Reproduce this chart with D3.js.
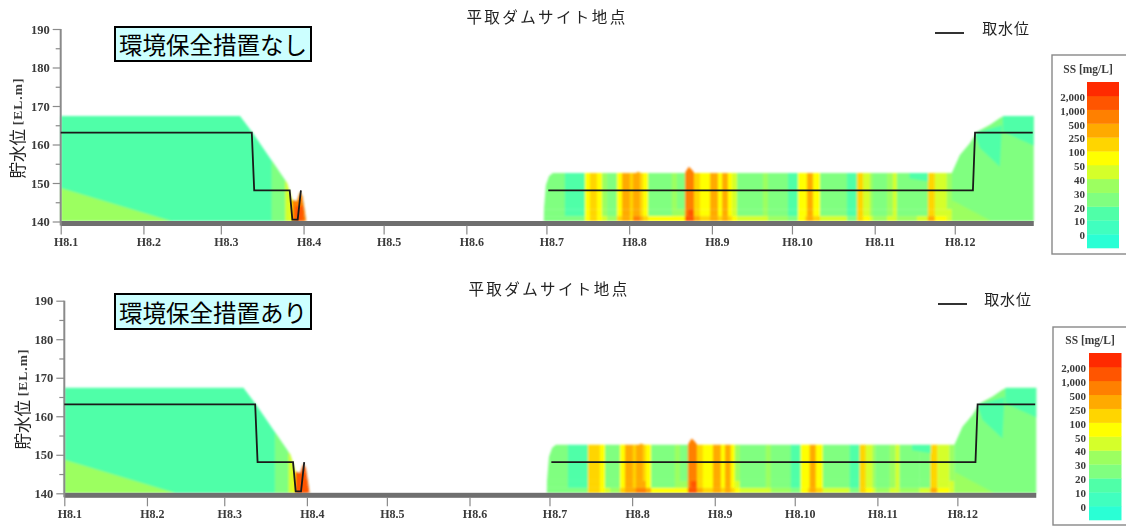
<!DOCTYPE html>
<html><head><meta charset="utf-8">
<script src="https://cdn.jsdelivr.net/npm/d3@7/dist/d3.min.js"></script>
<style>
html,body{margin:0;padding:0;background:#fff;overflow:hidden}
svg{display:block}
.serif{font-family:"Liberation Serif",serif;font-weight:bold;fill:#3a3a3a}
.jp{font-family:"Noto Sans CJK JP",sans-serif;fill:#222}
</style></head><body>
<script>
// ---------- data (days since 1 Jan H8, elevation in EL.m, SS in mg/L) ----------
const monthDays   = [0,31,60,91,121,152,182,213,244,274,305,335];
const monthLabels = ["H8.1","H8.2","H8.3","H8.4","H8.5","H8.6","H8.7","H8.8","H8.9","H8.10","H8.11","H8.12"];
const levelMajor  = [140,150,160,170,180,190];
const levelMinor  = [145,155,165,175,185];
const legendTicks = ["2,000","1,000","500","250","100","50","40","30","20","10","0"];
const ssThresholds = [0,10,20,30,40,50,100,250,500,1000,2000];
const ssColors = ["#2AFFD5","#40FFBF","#50FFA8","#80FF80","#9CFF60","#D5FF2A","#FFFF00","#FFD500","#FFAA00","#FF8000","#FF5500","#FF2A00"];

const reservoirSurface = [[0,140],[0,167.4],[67.2,167.4],[72,163],[84.8,150],[86.7,145.6],[88.5,145.3],[89.7,147.7],[90.6,146.5],[91.4,143],[92,140],
  [180.7,140],[181.8,149.5],[183,151.8],[184.4,152.6],[215.5,152.6],[216.3,152.9],[217.5,152.6],[233.9,152.6],[234.7,153.6],[235.4,154.2],[236.6,153.4],[237.4,152.6],
  [333.9,152.6],[336.9,157.3],[340.7,160.4],[343.3,163.3],[348.2,165.1],[351.9,166.9],[353.4,167.4],[364.6,167.4],[364.6,140]];
const intakeSpring = [[0,163.1],[71.6,163.1],[72.5,148.1],[85.8,148.1],[86.8,140.5],[88.8,140.5],[90,148.1]];
const intakeAutumn = [[182.7,148.1],[341.8,148.1],[342.6,163.1],[364.2,163.1]];

const leftWedge   = [[0,148.7],[42,140],[0,140]];
const rightBase   = [[333.9,170],[366,170],[366,140],[333.9,140]];
const rightTeal1  = [[342.5,163],[344.4,159.1],[351.9,154.2],[352.7,165]];
const rightTeal2  = [[353,167.4],[365,167.4],[365,159.6],[353,163.3]];
const rightWedge  = [[334,145.5],[349,140],[334,140]];
const lateTeal    = [[318,152.6],[325,152.6],[325,150.4],[318,151.2]];
const drawdownDays = [79,84.1,86,86.7,92.2];
const drawdownSS   = [25,45,75,750];
const drawdownSS2  = [25,45,75,1500];

const stripeDays = [181,188.9,196.4,198.3,200.9,202.8,204.7,208.4,210.3,213.3,214.4,217.1,218.2,220.1,229,230.9,233.9,235,237.3,239.5,243.3,246.3,247.8,250,251.5,253.4,263.1,265,272.5,276.2,278.9,279.6,281.9,284.5,294.6,298.3,300.6,303.2,304.3,309.6,311.8,313.3,320.8,324.9,327.5,332,333.9];
const upperSS1  = [25,15,75,175,75,35,25,75,375,175,375,175,75,25,35,25,750,750,175,75,375,75,375,75,45,25,35,25,15,75,75,375,75,25,15,175,45,35,25,35,45,25,25,175,45,35];
const middleSS1 = [25,15,75,175,75,35,25,75,375,175,375,175,75,25,35,35,750,1500,175,75,375,75,375,75,45,25,35,25,15,75,75,375,75,25,15,175,45,35,25,35,45,25,25,175,45,45];
const lowerSS1  = [25,25,75,175,75,45,35,175,375,175,750,375,175,75,75,75,1500,1500,375,175,375,175,375,175,75,45,45,35,25,75,175,375,175,45,25,175,75,45,35,45,45,35,45,375,75,45];
const upperSS2  = [25,15,175,175,75,25,25,75,375,175,375,175,75,25,35,25,750,750,175,75,375,75,375,75,35,25,35,25,15,75,75,375,75,25,15,175,45,35,25,35,45,25,25,175,45,35];
const middleSS2 = [25,15,175,175,75,25,25,75,375,175,375,375,75,25,35,35,750,1500,175,75,375,75,375,75,45,25,35,25,15,75,75,375,75,25,15,175,45,35,25,35,45,25,25,175,45,45];
const lowerSS2  = [25,25,175,175,75,45,35,175,375,375,750,750,375,75,75,75,1500,1500,375,175,375,175,375,175,75,45,45,35,25,75,175,375,175,45,25,175,75,45,35,45,45,35,45,375,75,45];
const stripeBreaks = [143.2,141.4,140];   // lower elevation of each stripe layer

const titleText  = "平取ダムサイト地点";
const intakeText = "取水位";
const legendTitle = "SS [mg/L]";
const panelNames = ["環境保全措置なし","環境保全措置あり"];

// ---------- layout ----------
const W=1126,H=526;
const panels=[
 {name:panelNames[0],xr:[60.7,1037.5],yr:[221.5,29],upper:upperSS1,middle:middleSS1,lower:lowerSS1,dd:drawdownSS,
  titleX:547,titleY:16,lgX:[935,964],lgY:33,lgTX:1006,lgTY:27,boxX:115,boxY:27,boxH:34,axisTitleX:17,axisTitleCy:128,
  leg:{x:1052,y:55,w:74,h:199,cx:1087,cw:32,cy:82,ch:166,lx:1085,tx:1088,ty:69}},
 {name:panelNames[1],xr:[64.3,1040],yr:[493.3,300.7],upper:upperSS2,middle:middleSS2,lower:lowerSS2,dd:drawdownSS2,
  titleX:549,titleY:288,lgX:[938,967],lgY:304,lgTX:1008,lgTY:298,boxX:115,boxY:294,boxH:35,axisTitleX:22,axisTitleCy:399,
  leg:{x:1053,y:327,w:73,h:198,cx:1089,cw:32.5,cy:353,ch:167,lx:1086,tx:1090,ty:340}}
];

const svg=d3.select("body").append("svg").attr("width",W).attr("height",H);
const defs=svg.append("defs");
const blurHeat=defs.append("filter").attr("id","blurHeat").attr("x","-2%").attr("y","-10%").attr("width","104%").attr("height","120%");
blurHeat.append("feGaussianBlur").attr("stdDeviation",1.2);
const blurText=defs.append("filter").attr("id","blurText").attr("x","-5%").attr("y","-10%").attr("width","110%").attr("height","120%");
blurText.append("feGaussianBlur").attr("stdDeviation",0.3);

const ssColor=d3.scaleThreshold().domain(ssThresholds).range(ssColors);

panels.forEach((p,idx)=>{
  const x=d3.scaleLinear().domain([0,366]).range(p.xr);
  const y=d3.scaleLinear().domain([140,190]).range(p.yr);
  const g=svg.append("g");
  const poly=d3.line().x(d=>x(d[0])).y(d=>y(d[1]));

  // heat layer clipped by the water surface
  const clipId="surface"+idx;
  defs.append("clipPath").attr("id",clipId).append("path").attr("d",poly(reservoirSurface)+"Z");
  const heatOuter=g.append("g").attr("filter","url(#blurHeat)");
  const heat=heatOuter.append("g").attr("clip-path",`url(#${clipId})`);
  const fillPoly=(pts,val)=>heat.append("path").attr("d",poly(pts)+"Z").attr("fill",ssColor(val));
  const fillRect=(d0,d1,e0,e1,val)=>heat.append("rect")
      .attr("x",x(d0)).attr("width",x(d1)-x(d0)+0.3)
      .attr("y",y(e1)).attr("height",y(e0)-y(e1)).attr("fill",ssColor(val));

  fillRect(0,100,140,170,15);
  fillPoly(leftWedge,35);
  d3.pairs(drawdownDays).forEach((d,i)=>fillRect(d[0],d[1],140,170,p.dd[i]));
  fillRect(87.8,90.8,140,144,1500);
  d3.pairs(stripeDays).forEach((d,i)=>{
    fillRect(d[0],d[1],stripeBreaks[0],170,p.upper[i]);
    fillRect(d[0],d[1],stripeBreaks[1],stripeBreaks[0],p.middle[i]);
    fillRect(d[0],d[1],stripeBreaks[2],stripeBreaks[1],p.lower[i]);
  });
  fillPoly(rightBase,25);
  fillPoly(rightTeal1,15);
  fillPoly(rightTeal2,15);
  fillPoly(rightWedge,35);
  fillPoly(lateTeal,15);

  // bed band
  g.append("rect").attr("x",x(0)).attr("y",y(140)-0.5).attr("width",x(364.6)-x(0)).attr("height",5)
    .attr("fill","#6f6f6f");

  // axes
  const axes=g.append("g").attr("filter","url(#blurText)");
  const axY=axes.append("g").attr("transform",`translate(${x(0)},0)`)
    .call(d3.axisLeft(y).tickValues(levelMajor).tickSize(8).tickPadding(3).tickFormat(d3.format("d")));
  axY.select(".domain").attr("stroke","#8a8a8a").attr("stroke-width",2).attr("d",`M0,${y(190)}V${y(140)+4}`);
  axY.selectAll(".tick line").attr("stroke","#8a8a8a").attr("stroke-width",1.2);
  axY.selectAll("text").attr("class","serif").attr("font-size",12.5).attr("font-family",null).style("fill","#3a3a3a");
  const axYm=axes.append("g").attr("transform",`translate(${x(0)},0)`)
    .call(d3.axisLeft(y).tickValues(levelMinor).tickSize(5).tickFormat(""));
  axYm.select(".domain").remove();
  axYm.selectAll(".tick line").attr("stroke","#8a8a8a").attr("stroke-width",1.2);

  const axX=axes.append("g").attr("transform",`translate(0,${y(140)+4})`)
    .call(d3.axisBottom(x).tickValues(monthDays).tickSize(9).tickPadding(3).tickFormat((d,i)=>monthLabels[i]));
  axX.select(".domain").remove();
  axX.selectAll(".tick line").attr("stroke","#8a8a8a").attr("stroke-width",1.2);
  axX.selectAll("text").attr("class","serif").attr("font-size",12).attr("font-family",null).attr("dx",5);

  // intake level
  const line=d3.line().x(d=>x(d[0])).y(d=>y(d[1]));
  [intakeSpring,intakeAutumn].forEach(s=>g.append("path").attr("d",line(s)).attr("fill","none").attr("stroke","#1a1a1a").attr("stroke-width",1.8));

  // texts
  const txt=g.append("g").attr("filter","url(#blurText)");
  txt.append("text").attr("class","jp").attr("x",p.titleX).attr("y",p.titleY).attr("text-anchor","middle").attr("dominant-baseline","central")
    .attr("font-size",15.5).attr("letter-spacing",2.4).text(titleText);
  txt.append("line").attr("x1",p.lgX[0]).attr("x2",p.lgX[1]).attr("y1",p.lgY).attr("y2",p.lgY).attr("stroke","#333").attr("stroke-width",2);
  txt.append("text").attr("class","jp").attr("x",p.lgTX).attr("y",p.lgTY).attr("text-anchor","middle").attr("dominant-baseline","central")
    .attr("font-size",15).attr("letter-spacing",0.8).text(intakeText);

  const at=txt.append("text").attr("transform",`translate(${p.axisTitleX},${p.axisTitleCy}) rotate(-90)`)
    .attr("text-anchor","middle").attr("dominant-baseline","central");
  at.append("tspan").attr("class","jp").attr("font-size",16.5).text("貯水位 ");
  at.append("tspan").attr("class","serif").attr("font-size",13.5).attr("letter-spacing",1).text("[EL.m]");

  // annotation box
  g.append("rect").attr("x",p.boxX).attr("y",p.boxY).attr("width",196).attr("height",p.boxH)
    .attr("fill","#CCFFFF").attr("stroke","#000").attr("stroke-width",2);
  g.append("text").attr("class","jp").attr("x",p.boxX+98).attr("y",p.boxY+p.boxH/2).attr("text-anchor","middle")
    .attr("dominant-baseline","central").attr("font-size",23.5).style("fill","#000").text(p.name);

  // legend
  const L=p.leg;
  const lg=g.append("g");
  lg.append("rect").attr("x",L.x).attr("y",L.y).attr("width",L.w+4).attr("height",L.h).attr("fill","#fff").attr("stroke","#888").attr("stroke-width",1.4);
  const bandY=d3.scaleBand().domain(d3.range(ssColors.length).reverse()).range([L.cy,L.cy+L.ch]);
  const lgHeat=lg.append("g").attr("filter","url(#blurText)");
  lgHeat.selectAll("rect").data(ssColors).join("rect")
    .attr("x",L.cx).attr("width",L.cw).attr("y",(d,i)=>bandY(i)).attr("height",bandY.bandwidth()+0.3).attr("fill",d=>d);
  const lgt=lg.append("g").attr("filter","url(#blurText)");
  lgt.append("text").attr("class","serif").attr("x",L.tx).attr("y",L.ty).attr("text-anchor","middle").attr("dominant-baseline","central")
    .attr("font-size",11.5).text(legendTitle);
  const tickY=d3.scalePoint().domain(legendTicks).range([L.cy+bandY.bandwidth()+1,L.cy+bandY.bandwidth()*11+1]);
  lgt.selectAll("text.t").data(legendTicks).join("text").attr("class","serif t")
    .attr("x",L.lx).attr("y",d=>tickY(d)).attr("text-anchor","end").attr("dominant-baseline","central")
    .attr("font-size",11).text(d=>d);
});
</script></body></html>
